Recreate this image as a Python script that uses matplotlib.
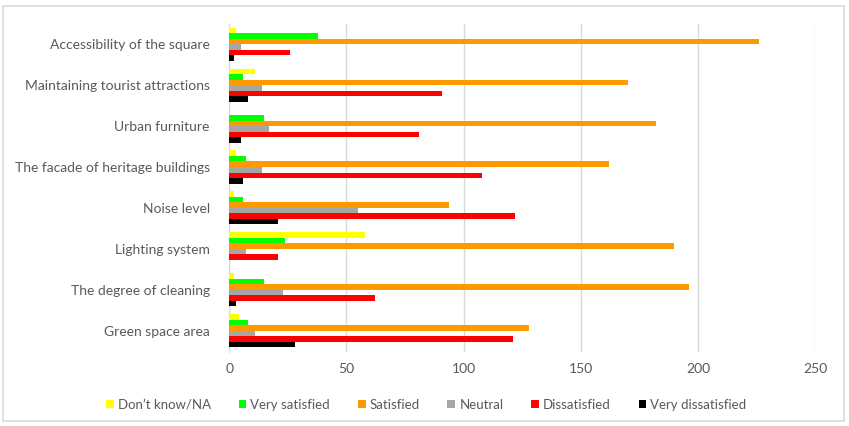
import numpy as np
from matplotlib import pyplot as plt
from matplotlib.patches import Rectangle

plt.rcParams["font.family"] = ["Lato", "DejaVu Sans"]

categories = [
    "Green space area",
    "The degree of cleaning",
    "Lighting system",
    "Noise level",
    "The facade of heritage buildings",
    "Urban furniture",
    "Maintaining tourist attractions",
    "Accessibility of the square",
]
series_names = ["Don\u2019t know/NA", "Very satisfied", "Satisfied", "Neutral", "Dissatisfied", "Very dissatisfied"]
dont_know = [4, 2, 58, 2, 3, 0, 11, 3]
very_satisfied = [8, 15, 24, 6, 7, 15, 6, 38]
satisfied = [128, 196, 190, 94, 162, 182, 170, 226]
neutral = [11, 23, 7, 55, 14, 17, 14, 5]
dissatisfied = [121, 62, 21, 122, 108, 81, 91, 26]
very_dissatisfied = [28, 3, 0, 21, 6, 5, 8, 2]
xticks = [0, 50, 100, 150, 200, 250]

colors = ["#ffff00", "#00ff00", "#ff9900", "#a6a6a6", "#ff0000", "#000000"]
all_series = [dont_know, very_satisfied, satisfied, neutral, dissatisfied, very_dissatisfied]

fig = plt.figure(figsize=(8.49, 4.26), dpi=100)
ax = fig.add_axes([0.27, 0.174, 0.69, 0.77])

y = np.arange(len(categories))
h = 0.135
for j, (vals, name, c) in enumerate(zip(all_series, series_names, colors)):
    ax.barh(y + (2.5 - j) * h, vals, height=h, color=c, label=name, zorder=3)

ax.set_xlim(0, 250)
ax.set_ylim(-0.52, 7.5)
ax.set_xticks(xticks)
ax.set_yticks(y)
ax.set_yticklabels(categories)
ax.tick_params(axis="both", length=0, labelsize=10, colors="#595959")
ax.tick_params(axis="y", pad=14)
ax.tick_params(axis="x", pad=8)
ax.grid(axis="x", color="#d9d9d9", linewidth=1, zorder=0)
for s in ["top", "right", "bottom"]:
    ax.spines[s].set_visible(False)
ax.spines["left"].set_color("#d9d9d9")

# legend along the bottom, centred under the whole chart area
ax.legend(loc="center", bbox_to_anchor=(0.502, 0.05), bbox_transform=fig.transFigure,
          ncol=6, frameon=False, fontsize=9.5, handlelength=0.6, handleheight=0.6,
          handletextpad=0.3, columnspacing=2.1, labelcolor="#595959")

fig.patches.append(Rectangle((0.004, 0.012), 0.99, 0.975, transform=fig.transFigure,
                             fill=False, edgecolor="#d9d9d9", linewidth=1.2))

fig.savefig("out.png", dpi=100, facecolor="white")
